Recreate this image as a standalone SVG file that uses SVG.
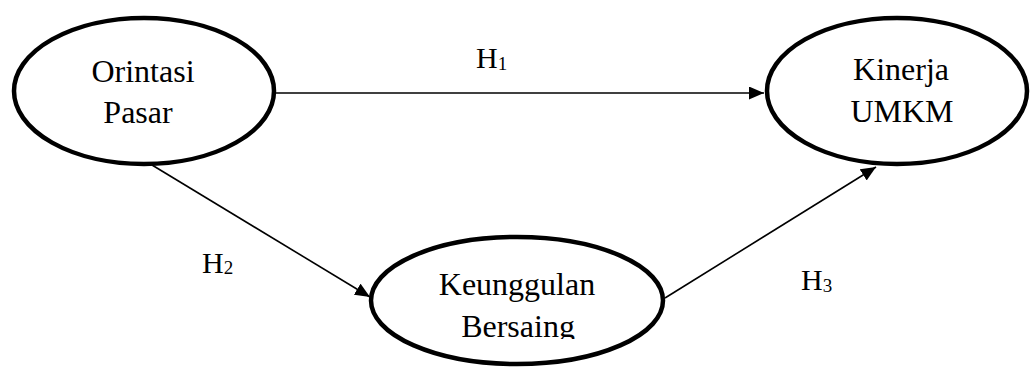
<svg xmlns="http://www.w3.org/2000/svg" width="1030" height="367" viewBox="0 0 1030 367">
<style>
.node{fill:#fff;stroke:#000;stroke-width:4.5}
.lbl{font-size:32px;fill:#000;text-anchor:middle}
.h{font-size:30px;fill:#000}
.sub{font-size:19px}
.edge{stroke:#000;stroke-width:1.6;fill:none;marker-end:url(#arr)}
</style>
<defs>
<marker id="arr" markerUnits="userSpaceOnUse" markerWidth="16" markerHeight="13" refX="15" refY="6.5" orient="auto">
<path d="M0,0 L15,6.5 L0,13 z" fill="#000"/>
</marker>
<clipPath id="clipB"><rect x="0" y="0" width="1030" height="339"/></clipPath>
</defs>
<rect width="1030" height="367" fill="#fff"/>
<g id="connectors">
<line class="edge" x1="276" y1="93" x2="764" y2="93"/>
<line class="edge" x1="152" y1="165" x2="370" y2="297"/>
<line class="edge" x1="665" y1="298" x2="876" y2="167"/>
</g>
<g id="labels" font-family="Liberation Serif, DejaVu Serif, serif">
<text class="h" x="476" y="68">H<tspan class="sub" dy="2">1</tspan></text>
<text class="h" x="202" y="273">H<tspan class="sub" dy="1">2</tspan></text>
<text class="h" x="801" y="290">H<tspan class="sub" dy="2">3</tspan></text>
</g>
<g id="orintasi-pasar" font-family="Liberation Serif, DejaVu Serif, serif">
<ellipse class="node" cx="144" cy="91" rx="130" ry="73"/>
<text class="lbl" x="143" y="82">Orintasi</text>
<text class="lbl" x="138" y="123">Pasar</text>
</g>
<g id="kinerja-umkm" font-family="Liberation Serif, DejaVu Serif, serif">
<ellipse class="node" cx="897" cy="91" rx="130" ry="73"/>
<text class="lbl" x="901" y="80">Kinerja</text>
<text class="lbl" x="902" y="122">UMKM</text>
</g>
<g id="keunggulan-bersaing" font-family="Liberation Serif, DejaVu Serif, serif">
<ellipse class="node" cx="517" cy="300.5" rx="146" ry="63.5"/>
<text class="lbl" x="517" y="295">Keunggulan</text>
<text class="lbl" x="518" y="337" clip-path="url(#clipB)">Bersaing</text>
</g>
</svg>
